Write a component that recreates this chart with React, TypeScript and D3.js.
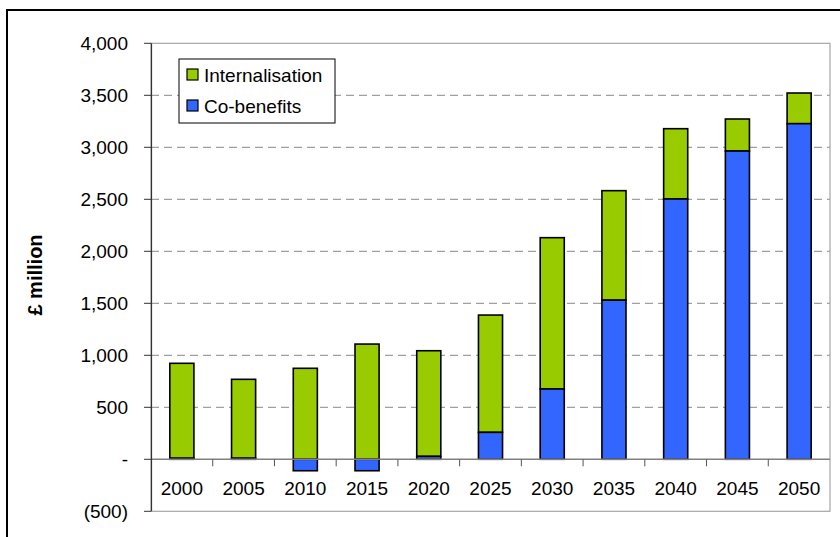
import React from "react";
import * as d3 from "d3";

const categories = ["2000","2005","2010","2015","2020","2025","2030","2035","2040","2045","2050"];
const coBenefits = [10, 10, -110, -110, 28, 259, 676, 1530, 2503, 2964, 3227];
const internalisation = [913, 759, 875, 1108, 1016, 1128, 1455, 1053, 676, 308, 295];
const yTicks = [-500, 0, 500, 1000, 1500, 2000, 2500, 3000, 3500, 4000];
const seriesNames = ["Internalisation", "Co-benefits"];
const seriesColors = ["#99CC00", "#3366FF"];

const W = 840, H = 537;
const plot = { left: 151, right: 830, top: 43.3, bottom: 511.3 };
const FONT = "'Liberation Sans', Arial, sans-serif";

function fmt(v: number): string {
  if (v === 0) return "-";
  if (v < 0) return "(" + d3.format(",")(-v) + ")";
  return d3.format(",")(v);
}

export default function App() {
  const x = d3.scaleBand<string>().domain(categories).range([plot.left, plot.right]).paddingInner(0.61).paddingOuter(0.305);
  const xb = d3.scaleBand<string>().domain(categories).range([plot.left, plot.right]);
  const y = d3.scaleLinear().domain([-500, 4000]).range([plot.bottom, plot.top]);
  const bw = x.bandwidth();

  return (
    <svg width={W} height={H} style={{ position: "absolute", left: 0, top: 0, background: "#fff" }} fontFamily={FONT}>
      <rect x={0} y={0} width={W} height={H} fill="#fff" />
      {/* outer frame */}
      <path d={`M7,${H} V10 H${W}`} fill="none" stroke="#000" strokeWidth={2} />
      {/* plot area border */}
      <rect x={plot.left} y={plot.top} width={plot.right - plot.left} height={plot.bottom - plot.top} fill="none" stroke="#a6a6a6" strokeWidth={1.2} />
      {/* gridlines */}
      {yTicks.filter(t => t > 0 && t < 4000).map(t => (
        <line key={t} x1={plot.left} x2={plot.right} y1={y(t)} y2={y(t)} stroke="#a0a0a0" strokeWidth={1.2} strokeDasharray="8,5" />
      ))}
      {/* bars */}
      {categories.map((c, i) => {
        const cb = coBenefits[i];
        const base = Math.max(cb, 0);
        const it = internalisation[i];
        const bx = x(c) as number;
        return (
          <g key={c}>
            <rect x={bx} y={y(base + it)} width={bw} height={y(base) - y(base + it)} fill={seriesColors[0]} stroke="#000" strokeWidth={1.6} />
            <rect x={bx} y={y(Math.max(cb, 0))} width={bw} height={Math.abs(y(0) - y(cb))} fill={seriesColors[1]} stroke="#000" strokeWidth={1.6} />
          </g>
        );
      })}
      {/* zero line */}
      <line x1={plot.left} x2={plot.right} y1={y(0)} y2={y(0)} stroke="#808080" strokeWidth={1.5} />
      {/* category ticks */}
      {categories.slice(1).map(c => (
        <line key={c} x1={xb(c) as number} x2={xb(c) as number} y1={y(0)} y2={y(0) + 7} stroke="#555" strokeWidth={1} />
      ))}
      {/* y axis */}
      <line x1={plot.left + 0.5} x2={plot.left + 0.5} y1={plot.top} y2={plot.bottom} stroke="#333" strokeWidth={1.2} />
      {yTicks.map(t => (
        <g key={t}>
          <line x1={plot.left - 7} x2={plot.left} y1={y(t)} y2={y(t)} stroke="#333" strokeWidth={1} />
          <text x={128} y={y(t)} dy="0.36em" textAnchor="end" fontSize={19} fill="#000">{fmt(t)}</text>
        </g>
      ))}
      {/* x labels */}
      {categories.map(c => (
        <text key={c} x={(xb(c) as number) + xb.bandwidth() / 2} y={495} textAnchor="middle" fontSize={19} fill="#000">{c}</text>
      ))}
      {/* y title */}
      <text transform={`translate(42,275) rotate(-90)`} textAnchor="middle" fontSize={20} fontWeight="bold" fill="#000">£ million</text>
      {/* legend */}
      <rect x={179} y={59} width={156} height={64} fill="#fff" stroke="#000" strokeWidth={1} />
      {seriesNames.map((n, i) => (
        <g key={n}>
          <rect x={187} y={69 + i * 31} width={11} height={11} fill={seriesColors[i]} stroke="#000" strokeWidth={1.2} />
          <text x={204} y={75 + i * 31} dy="0.36em" fontSize={19} fill="#000">{n}</text>
        </g>
      ))}
    </svg>
  );
}
